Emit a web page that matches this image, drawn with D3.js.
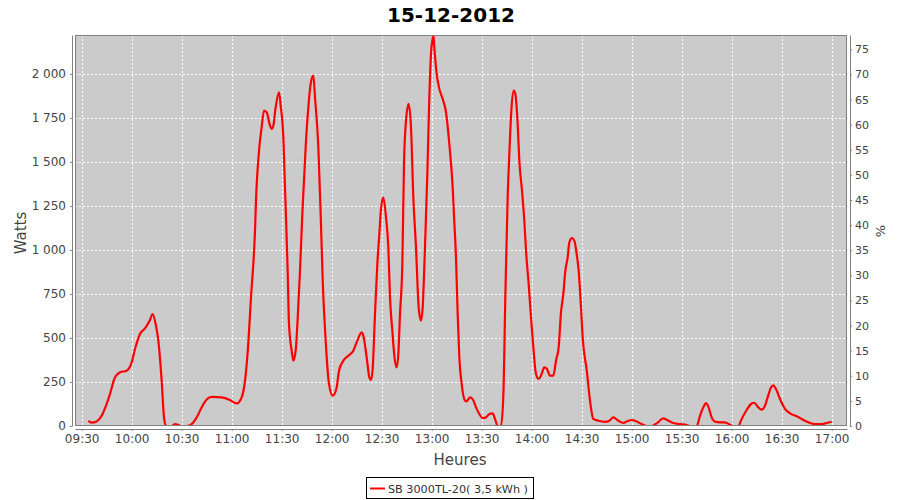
<!DOCTYPE html>
<html><head><meta charset="utf-8">
<script src="https://cdn.jsdelivr.net/npm/d3@7"></script>
<style>body{margin:0;background:#fff}svg{display:block}</style>
</head><body>
<svg id="c" width="900" height="500"></svg>
<script>
const chartTitle = "15-12-2012";
const seriesName = "SB 3000TL-20( 3,5 kWh )";
const times = ["09:34","09:36","09:39","09:42","09:45","09:47","09:49:36","09:53","09:57","10:00","10:02","10:05","10:08","10:11","10:12:36","10:14:36","10:16","10:18","10:19:24","10:20:36","10:24","10:26","10:28","10:30","10:33","10:36","10:39","10:42","10:45","10:48","10:54","10:59","11:03","11:06","11:08","11:09:36","11:11:36","11:14","11:14:36","11:16:36","11:18","11:19:24","11:21","11:23","11:24","11:25","11:26:24","11:28:24","11:29:24","11:31","11:32","11:33:36","11:34:24","11:36","11:37","11:38:24","11:39:36","11:41","11:42:24","11:43:24","11:44:24","11:46","11:47:24","11:49","11:50","11:52","11:53:24","11:54:36","11:56:24","11:58:24","12:00:36","12:03","12:04:24","12:07","12:10","12:13","12:15","12:18","12:19","12:21","12:22:36","12:23:36","12:24:36","12:26","12:27:24","12:28:36","12:29:36","12:31","12:32:36","12:34","12:35","12:36:24","12:37:36","12:39","12:40","12:41","12:42:24","12:43:24","12:44:36","12:46:12","12:47:36","12:49","12:50:36","12:52:12","12:53:36","12:54:36","12:56","12:57:24","12:58:36","12:59:36","13:00:36","13:01:06","13:01:36","13:03","13:04:36","13:06:36","13:08:36","13:10:36","13:12:36","13:13:36","13:14:36","13:15:36","13:16:36","13:18","13:20","13:21","13:23","13:24:36","13:26:36","13:28:36","13:30:36","13:32:36","13:34:36","13:36:36","13:38","13:39:36","13:41:36","13:43","13:44:12","13:45:36","13:46:36","13:47:48","13:49:12","13:50:12","13:51:36","13:52:36","13:54:12","13:55:36","13:56:36","13:58:12","13:59:36","14:01","14:02:36","14:04:12","14:05:36","14:07:36","14:09:12","14:11","14:13","14:14:36","14:16:12","14:17:36","14:19","14:20:12","14:21:36","14:22:36","14:24:12","14:25:36","14:27","14:28:12","14:29:36","14:30:36","14:33","14:35","14:37","14:40","14:44","14:46:36","14:49","14:52","14:55","14:58","15:00","15:03","15:06","15:09","15:12","15:15","15:19","15:22","15:25","15:29","15:33","15:35","15:39","15:41","15:43","15:44:36","15:46","15:48","15:50","15:53","15:56","15:59","16:01","16:04","16:06","16:09","16:11:36","16:13:36","16:15:36","16:18","16:20","16:21:36","16:23:36","16:25","16:26:36","16:29","16:32","16:35","16:39","16:42","16:46","16:50","16:54","16:57","17:00"];
const watts = [30,19,26,58,125,182,267,305,314,361,437,523,555,602,636,570,485,257,49,0,0,11,6,0,0,11,49,106,150,166,163,148,128,163,257,418,731,1110,1280,1583,1697,1791,1782,1706,1688,1706,1810,1895,1820,1640,1356,882,580,428,371,428,608,882,1205,1394,1583,1810,1943,1990,1867,1583,1205,835,485,239,172,219,314,371,399,428,475,532,513,390,276,261,324,636,920,1091,1233,1299,1185,1015,731,541,399,333,409,636,920,1489,1735,1830,1697,1299,1015,674,598,674,1015,1432,1867,2114,2199,2218,2151,2000,1915,1858,1782,1602,1356,1157,958,636,390,239,144,140,163,153,106,68,45,49,68,72,40,0,0,172,731,1299,1545,1791,1905,1886,1716,1507,1337,1166,996,807,617,447,295,267,286,333,324,286,286,371,447,645,750,882,958,1043,1068,1053,977,882,674,503,320,144,40,30,24,30,49,30,17,30,34,26,11,0,0,15,43,30,17,11,6,0,0,58,106,130,110,49,25,21,21,7,0,0,40,91,125,132,110,93,115,163,219,231,210,153,97,72,55,40,21,11,11,17,24];
const xTickLabels = ["09:30","10:00","10:30","11:00","11:30","12:00","12:30","13:00","13:30","14:00","14:30","15:00","15:30","16:00","16:30","17:00"];
const wattTicks = [0,250,500,750,1000,1250,1500,1750,2000];
const pctTicks = [0,5,10,15,20,25,30,35,40,45,50,55,60,65,70,75];

const parse = s => { const p = s.split(":").map(Number); return new Date(2012,11,15,p[0],p[1],p[2]||0); };
const data = times.map((t,i)=>({t:parse(t), w:watts[i]}));

const L=75, R=847, T=35, B=426;
const svg = d3.select("#c");
const x = d3.scaleTime().domain([parse("09:26"), parse("17:09:12")]).range([L,R]);
const y = d3.scaleLinear().domain([0,2221]).range([B,T]);
const yp = d3.scaleLinear().domain([0,77.85]).range([B,T]);
const font = "'DejaVu Sans', sans-serif";

svg.append("rect").attr("x",L).attr("y",T).attr("width",R-L).attr("height",B-T).attr("fill","#cbcbcb");

// grid
const xt = xTickLabels.map(parse);
svg.append("g").selectAll("line").data(xt).join("line")
  .attr("x1",d=>Math.round(x(d))+0.5).attr("x2",d=>Math.round(x(d))+0.5).attr("y1",T).attr("y2",B)
  .attr("stroke","#fff").attr("stroke-dasharray","2,2").attr("stroke-width",1);
svg.append("g").selectAll("line").data(wattTicks.slice(1)).join("line")
  .attr("y1",d=>Math.round(y(d))+0.5).attr("y2",d=>Math.round(y(d))+0.5).attr("x1",L).attr("x2",R)
  .attr("stroke","#fff").attr("stroke-dasharray","2,2").attr("stroke-width",1);

// line
const clipId="clipP";
svg.append("clipPath").attr("id",clipId).append("rect").attr("x",L).attr("y",T).attr("width",R-L).attr("height",B-T);
svg.append("path").datum(data).attr("clip-path","url(#"+clipId+")")
  .attr("d", d3.line().x(d=>x(d.t)).y(d=>y(d.w)).curve(d3.curveMonotoneX))
  .attr("fill","none").attr("stroke","#ff0000").attr("stroke-width",2.2).attr("stroke-linejoin","round");

// plot border
svg.append("rect").attr("x",L+0.5).attr("y",T+0.5).attr("width",R-L-1).attr("height",B-T-1)
  .attr("fill","none").attr("stroke","#808080").attr("stroke-width",1);

// axes
const xAxis = d3.axisBottom(x).tickValues(xt).tickFormat((d,i)=>xTickLabels[i]).tickSizeInner(2).tickSizeOuter(0).tickPadding(3);
const gx = svg.append("g").attr("transform",`translate(0,${B+3})`).call(xAxis);
const yAxis = d3.axisLeft(y).tickValues(wattTicks).tickFormat(d=>d3.format(",")(d).replace(",", " ")).tickSizeInner(2).tickSizeOuter(0).tickPadding(4);
const gy = svg.append("g").attr("transform",`translate(${L-3},0)`).call(yAxis);
const pAxis = d3.axisRight(yp).tickValues(pctTicks).tickSizeInner(2).tickSizeOuter(0).tickPadding(3);
const gp = svg.append("g").attr("transform",`translate(${R+3},0)`).call(pAxis);
[gx,gy,gp].forEach(g=>{
  g.selectAll("path.domain").attr("stroke","#808080");
  g.selectAll(".tick line").attr("stroke","#808080");
  g.selectAll("text").attr("font-family",font).attr("font-size",12).attr("fill","#444");
});
gp.selectAll("text").attr("font-size",11);

// titles
svg.append("text").attr("x",451).attr("y",22).attr("text-anchor","middle")
  .attr("font-family",font).attr("font-weight","bold").attr("font-size",20).attr("fill","#000").text(chartTitle);
svg.append("text").attr("x",460).attr("y",465).attr("text-anchor","middle")
  .attr("font-family",font).attr("font-size",15).attr("fill","#444").text("Heures");
svg.append("text").attr("transform","translate(26,233) rotate(-90)").attr("text-anchor","middle")
  .attr("font-family",font).attr("font-size",15).attr("fill","#444").text("Watts");
svg.append("text").attr("transform","translate(885,231) rotate(-90)").attr("text-anchor","middle")
  .attr("font-family",font).attr("font-size",13).attr("fill","#444").text("%");

// legend
const lg = svg.append("g");
lg.append("rect").attr("x",366.5).attr("y",477.5).attr("width",167).attr("height",21).attr("fill","#fff").attr("stroke","#000");
lg.append("line").attr("x1",370).attr("x2",385).attr("y1",488.5).attr("y2",488.5).attr("stroke","#ff0000").attr("stroke-width",2);
lg.append("text").attr("x",388).attr("y",492.5).attr("font-family",font).attr("font-size",11.2).attr("fill","#333")
  .attr("textLength",140).attr("lengthAdjust","spacingAndGlyphs").text(seriesName);
</script>
</body></html>
